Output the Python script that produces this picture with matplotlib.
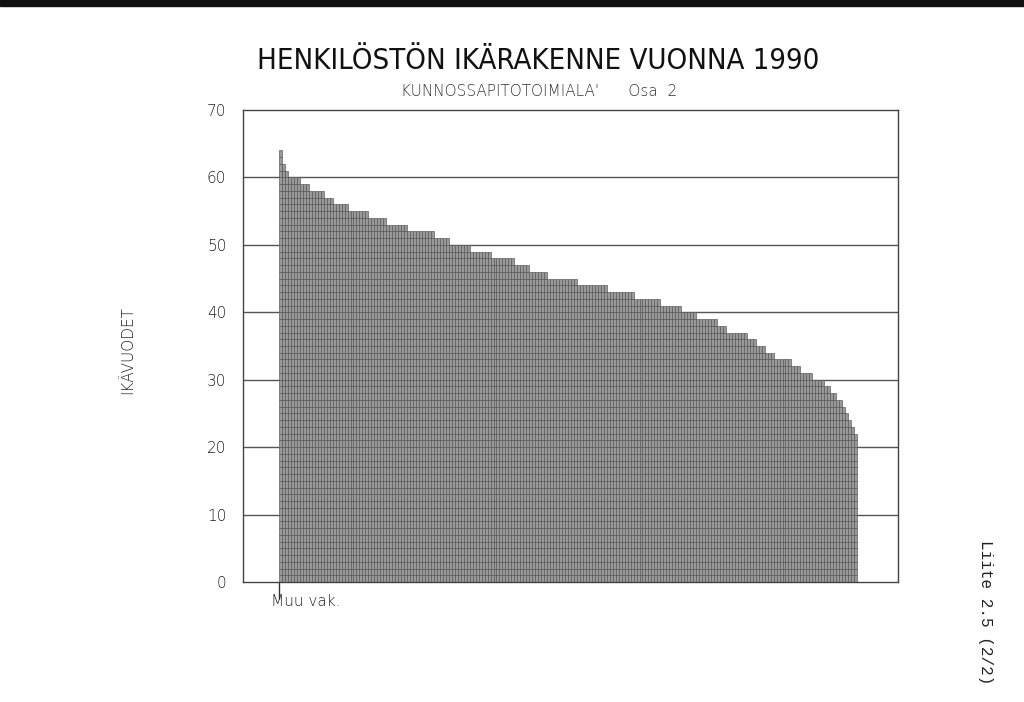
import numpy as np
import matplotlib
matplotlib.use('Agg')
import matplotlib.pyplot as plt
import matplotlib.transforms as mtransforms
from matplotlib.patches import Rectangle

# ages (years) and how many staff have each age
ages = [64, 62, 61, 60, 59, 58, 57, 56, 55, 54, 53, 52, 51, 50, 49, 48, 47, 46,
        45, 44, 43, 42, 41, 40, 39, 38, 37, 36, 35, 34, 33, 32, 31, 30, 29, 28,
        27, 26, 25, 24, 23, 22]
counts = [1, 1, 1, 4, 3, 5, 3, 5, 7, 6, 7, 9, 5, 7, 7, 8, 5, 6,
          10, 10, 9, 9, 7, 5, 7, 3, 7, 3, 3, 3, 6, 3, 4, 4, 2, 2,
          2, 1, 1, 1, 1, 1]
yticks = [0, 10, 20, 30, 40, 50, 60, 70]
group_label = 'Muu vak.'

# one bar per person, oldest first
person_age = np.repeat(ages, counts)
n = len(person_age)
x = np.arange(n)

fig = plt.figure(figsize=(10.24, 7.02), dpi=100)
fig.patch.set_facecolor('white')
ax = fig.add_axes([243/1024, 1 - 582/702, 655/1024, 472/702])

for yv in yticks[1:-1]:
    ax.axhline(yv, color='#555555', lw=1.0, zorder=1)

ax.bar(x, person_age, width=1.0, align='edge', color='#999999',
       edgecolor='#555555', linewidth=0.45, zorder=2)

# horizontal rules inside the bars, one per year
for k in range(1, int(person_age.max())):
    m = int((person_age > k).sum())
    ax.hlines(k, 0, m, color='#5a5a5a', lw=0.55, zorder=3)

left_pad = 36 / (578 / n)
right_pad = 41 / (578 / n)
ax.set_xlim(-left_pad, n + right_pad)
ax.set_ylim(0, 70)
ax.set_yticks(yticks)
ax.set_yticklabels([str(v) for v in yticks], fontsize=11, color='#222222',
                   family='DejaVu Sans', fontweight='light')
ax.tick_params(axis='y', length=0, pad=12)
ax.set_xticks([0])
ax.set_xticklabels([''])
ax.tick_params(axis='x', length=12, width=1, color='#333333')
trans = mtransforms.blended_transform_factory(ax.transData, ax.transAxes)
ax.text(-2.6, -0.025, group_label, transform=trans, ha='left', va='top',
        fontsize=11, color='#222222', fontweight='light')
for s in ax.spines.values():
    s.set_color('#444444')
    s.set_linewidth(1.0)

fig.text(538/1024, 1 - 61/702, 'HENKILÖSTÖN IKÄRAKENNE VUONNA 1990',
         ha='center', va='center', fontsize=21, color='#111111',
         family='DejaVu Sans', fontstretch='condensed')
fig.text(539/1024, 1 - 91/702, "KUNNOSSAPITOTOIMIALA'      Osa  2",
         ha='center', va='center', fontsize=11, color='#333333',
         family='DejaVu Sans', fontweight='light')
fig.text(128/1024, 1 - 350/702, 'IKÄVUODET', rotation=90, ha='center',
         va='center', fontsize=11, color='#222222', fontweight='light')
fig.text(985/1024, 1 - 612/702, 'Liite 2.5 (2/2)', rotation=270,
         ha='center', va='center', fontsize=11.5, color='#222222',
         family='Liberation Mono')

# dark scan edge along the top
fig.patches.append(Rectangle((0, 1 - 6/702), 1, 6/702, transform=fig.transFigure,
                             color='#111111', zorder=0))

fig.savefig('out.png', dpi=100)
